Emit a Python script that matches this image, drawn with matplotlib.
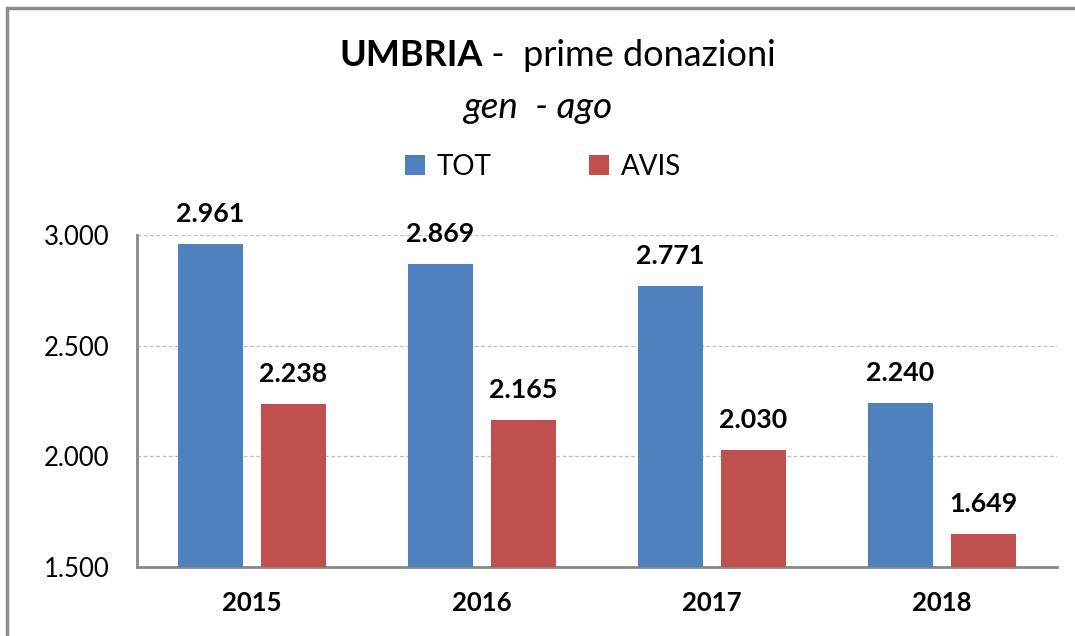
import matplotlib
matplotlib.use("Agg")
import matplotlib.pyplot as plt
from matplotlib.patches import Rectangle
import numpy as np

years = ["2015", "2016", "2017", "2018"]
tot = [2961, 2869, 2771, 2240]
avis = [2238, 2165, 2030, 1649]
yticks = [1500, 2000, 2500, 3000]

plt.rcParams['font.family'] = ['Lato', 'DejaVu Sans']

W, H = 1075, 636
fig = plt.figure(figsize=(W / 100, H / 100), dpi=100)
ax = fig.add_axes([137 / W, 1 - 567 / H, (1057 - 137) / W, (567 - 235) / H])

def fmt(v):
    return f"{v:,}".replace(",", ".")

x = np.arange(len(years))
bw = 0.283
off = 0.18
b1 = ax.bar(x - off, tot, bw, bottom=0, color="#4F81BD", label="TOT", zorder=3)
b2 = ax.bar(x + off, avis, bw, bottom=0, color="#C0504D", label="AVIS", zorder=3)

for xi, v in zip(x - off, tot):
    ax.annotate(fmt(v), (xi, v), xytext=(0, 13), textcoords="offset points",
                ha="center", va="bottom", fontsize=19.3, fontweight="bold")
for xi, v in zip(x + off, avis):
    ax.annotate(fmt(v), (xi, v), xytext=(0, 13), textcoords="offset points",
                ha="center", va="bottom", fontsize=19.3, fontweight="bold")

ax.set_xlim(-0.5, len(years) - 0.5)
ax.set_ylim(1500, 3000)
ax.set_yticks(yticks)
ax.set_yticklabels([fmt(v) for v in yticks], fontsize=18.5)
ax.set_xticks(x)
ax.set_xticklabels(years, fontsize=18.5, fontweight="bold")
ax.tick_params(axis="both", length=0)
ax.tick_params(axis="y", pad=20)
ax.tick_params(axis="x", pad=17)
ax.yaxis.grid(True, color="#BFBFBF", linestyle=(0, (3, 2)), linewidth=0.9, zorder=0)
for s in ["top", "right"]:
    ax.spines[s].set_visible(False)
for s in ["left", "bottom"]:
    ax.spines[s].set_color("#878787")
    ax.spines[s].set_linewidth(2)

t1 = fig.text(339 / W, 1 - 56 / H, "UMBRIA", fontsize=26, fontweight="bold", ha="left", va="center")
fig.canvas.draw()
bb = t1.get_window_extent()
fig.text(bb.x1 / W, 1 - 56 / H, " -  prime donazioni", fontsize=26, ha="left", va="center")
fig.text(0.5, 1 - 107 / H, "gen  - ago", fontsize=26.5, style="italic", ha="center", va="center")

leg = fig.legend(handles=[b1, b2], labels=["TOT", "AVIS"], loc="center",
                 bbox_to_anchor=(543 / W, 1 - 167 / H), ncol=2, frameon=False,
                 fontsize=20, handlelength=0.72, handleheight=0.72, handletextpad=0.42,
                 columnspacing=3.5)

fig.patches.append(Rectangle((7 / W, -0.1), 1.2, (1 - 8 / H) + 0.1, transform=fig.transFigure,
                             fill=False, edgecolor="#8C8C8C", linewidth=2.5))

fig.savefig("out.png", dpi=100, facecolor="white")
